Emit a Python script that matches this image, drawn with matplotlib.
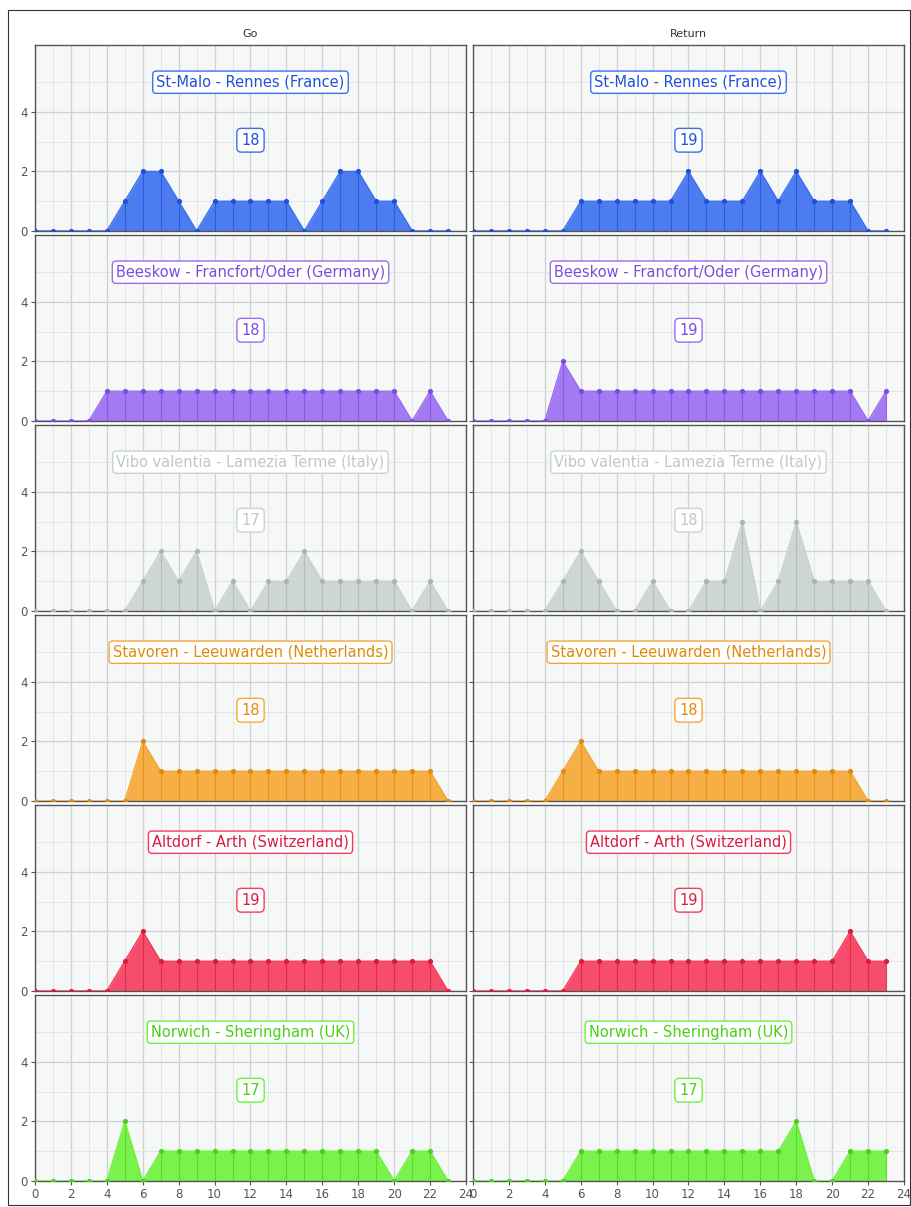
import matplotlib
matplotlib.use("Agg")
import matplotlib.pyplot as plt
from matplotlib.patches import Rectangle

hours = list(range(24))

routes = [
    "St-Malo - Rennes (France)",
    "Beeskow - Francfort/Oder (Germany)",
    "Vibo valentia - Lamezia Terme (Italy)",
    "Stavoren - Leeuwarden (Netherlands)",
    "Altdorf - Arth (Switzerland)",
    "Norwich - Sheringham (UK)",
]
colors = ["#3a6ff0", "#9a6cf2", "#c9d2d2", "#f5a733", "#f53a5c", "#6cf23a"]
edge_colors = ["#2050d8", "#7a4ce0", "#aab5b5", "#e08a10", "#d81c40", "#4ad018"]

go = [
    [0, 0, 0, 0, 0, 1, 2, 2, 1, 0, 1, 1, 1, 1, 1, 0, 1, 2, 2, 1, 1, 0, 0, 0],
    [0, 0, 0, 0, 1, 1, 1, 1, 1, 1, 1, 1, 1, 1, 1, 1, 1, 1, 1, 1, 1, 0, 1, 0],
    [0, 0, 0, 0, 0, 0, 1, 2, 1, 2, 0, 1, 0, 1, 1, 2, 1, 1, 1, 1, 1, 0, 1, 0],
    [0, 0, 0, 0, 0, 0, 2, 1, 1, 1, 1, 1, 1, 1, 1, 1, 1, 1, 1, 1, 1, 1, 1, 0],
    [0, 0, 0, 0, 0, 1, 2, 1, 1, 1, 1, 1, 1, 1, 1, 1, 1, 1, 1, 1, 1, 1, 1, 0],
    [0, 0, 0, 0, 0, 2, 0, 1, 1, 1, 1, 1, 1, 1, 1, 1, 1, 1, 1, 1, 0, 1, 1, 0],
]
ret = [
    [0, 0, 0, 0, 0, 0, 1, 1, 1, 1, 1, 1, 2, 1, 1, 1, 2, 1, 2, 1, 1, 1, 0, 0],
    [0, 0, 0, 0, 0, 2, 1, 1, 1, 1, 1, 1, 1, 1, 1, 1, 1, 1, 1, 1, 1, 1, 0, 1],
    [0, 0, 0, 0, 0, 1, 2, 1, 0, 0, 1, 0, 0, 1, 1, 3, 0, 1, 3, 1, 1, 1, 1, 0],
    [0, 0, 0, 0, 0, 1, 2, 1, 1, 1, 1, 1, 1, 1, 1, 1, 1, 1, 1, 1, 1, 1, 0, 0],
    [0, 0, 0, 0, 0, 0, 1, 1, 1, 1, 1, 1, 1, 1, 1, 1, 1, 1, 1, 1, 1, 2, 1, 1],
    [0, 0, 0, 0, 0, 0, 1, 1, 1, 1, 1, 1, 1, 1, 1, 1, 1, 1, 2, 0, 0, 1, 1, 1],
]
col_titles = ["Go", "Return"]

fig = plt.figure(figsize=(9.12, 12.07), dpi=100)
W, H = 912, 1207

# outer frame
fig.patches.append(Rectangle((8 / W, 1 - 1205 / H), 902 / W, 1195 / H,
                             transform=fig.transFigure, fill=False,
                             edgecolor="#333333", linewidth=0.8))

col_x = [35, 473]
pw = 431
row_top = [45, 235, 425, 615, 805, 995]
ph = 186

for r in range(6):
    for c in range(2):
        left = col_x[c] / W
        bottom = 1 - (row_top[r] + ph) / H
        ax = fig.add_axes([left, bottom, pw / W, ph / H])
        vals = go[r] if c == 0 else ret[r]
        ax.set_facecolor("#f6f7f7")
        ax.set_xlim(0, 24)
        ax.set_ylim(0, 6.25)
        ax.set_xticks(range(0, 25, 2))
        ax.set_xticks(range(1, 24, 2), minor=True)
        ax.set_yticks([0, 2, 4])
        ax.set_yticks([1, 3, 5], minor=True)
        ax.grid(True, which="major", color="#cdd1d1", linewidth=0.9)
        ax.grid(True, which="minor", color="#e2e5e5", linewidth=0.7)
        ax.set_axisbelow(True)

        ax.fill_between(hours, vals, 0, color=colors[r], alpha=0.9,
                        linewidth=0, zorder=2)
        ax.vlines(hours, 0, vals, color=edge_colors[r], linewidth=0.8,
                  alpha=0.7, zorder=3)
        ax.plot(hours, vals, color=colors[r], linewidth=1.0, zorder=3)
        ax.scatter(hours, vals, s=14, color=edge_colors[r], zorder=4,
                   linewidths=0)

        txt_color = edge_colors[r] if r != 2 else "#c0c8c8"
        ax.text(12, 5.0, routes[r], ha="center", va="center", fontsize=10.5,
                color=txt_color,
                bbox=dict(boxstyle="round,pad=0.25", facecolor="white",
                          edgecolor=colors[r], linewidth=1.0))
        ax.text(12, 3.05, str(sum(vals)), ha="center", va="center",
                fontsize=10.5, color=txt_color,
                bbox=dict(boxstyle="round,pad=0.3", facecolor="white",
                          edgecolor=colors[r], linewidth=1.0))

        for s in ax.spines.values():
            s.set_color("#555555")
            s.set_linewidth(1.0)
        ax.tick_params(which="both", length=3, color="#555555",
                       labelsize=8.5, labelcolor="#555555", pad=2)
        ax.tick_params(which="minor", length=0)
        if r < 5:
            ax.tick_params(axis="x", labelbottom=False, length=0)
        if c == 1:
            ax.tick_params(axis="y", labelleft=False)
        if r == 0:
            ax.set_title(col_titles[c], fontsize=8, color="#333333", pad=6)

fig.savefig("out.png", dpi=100)
